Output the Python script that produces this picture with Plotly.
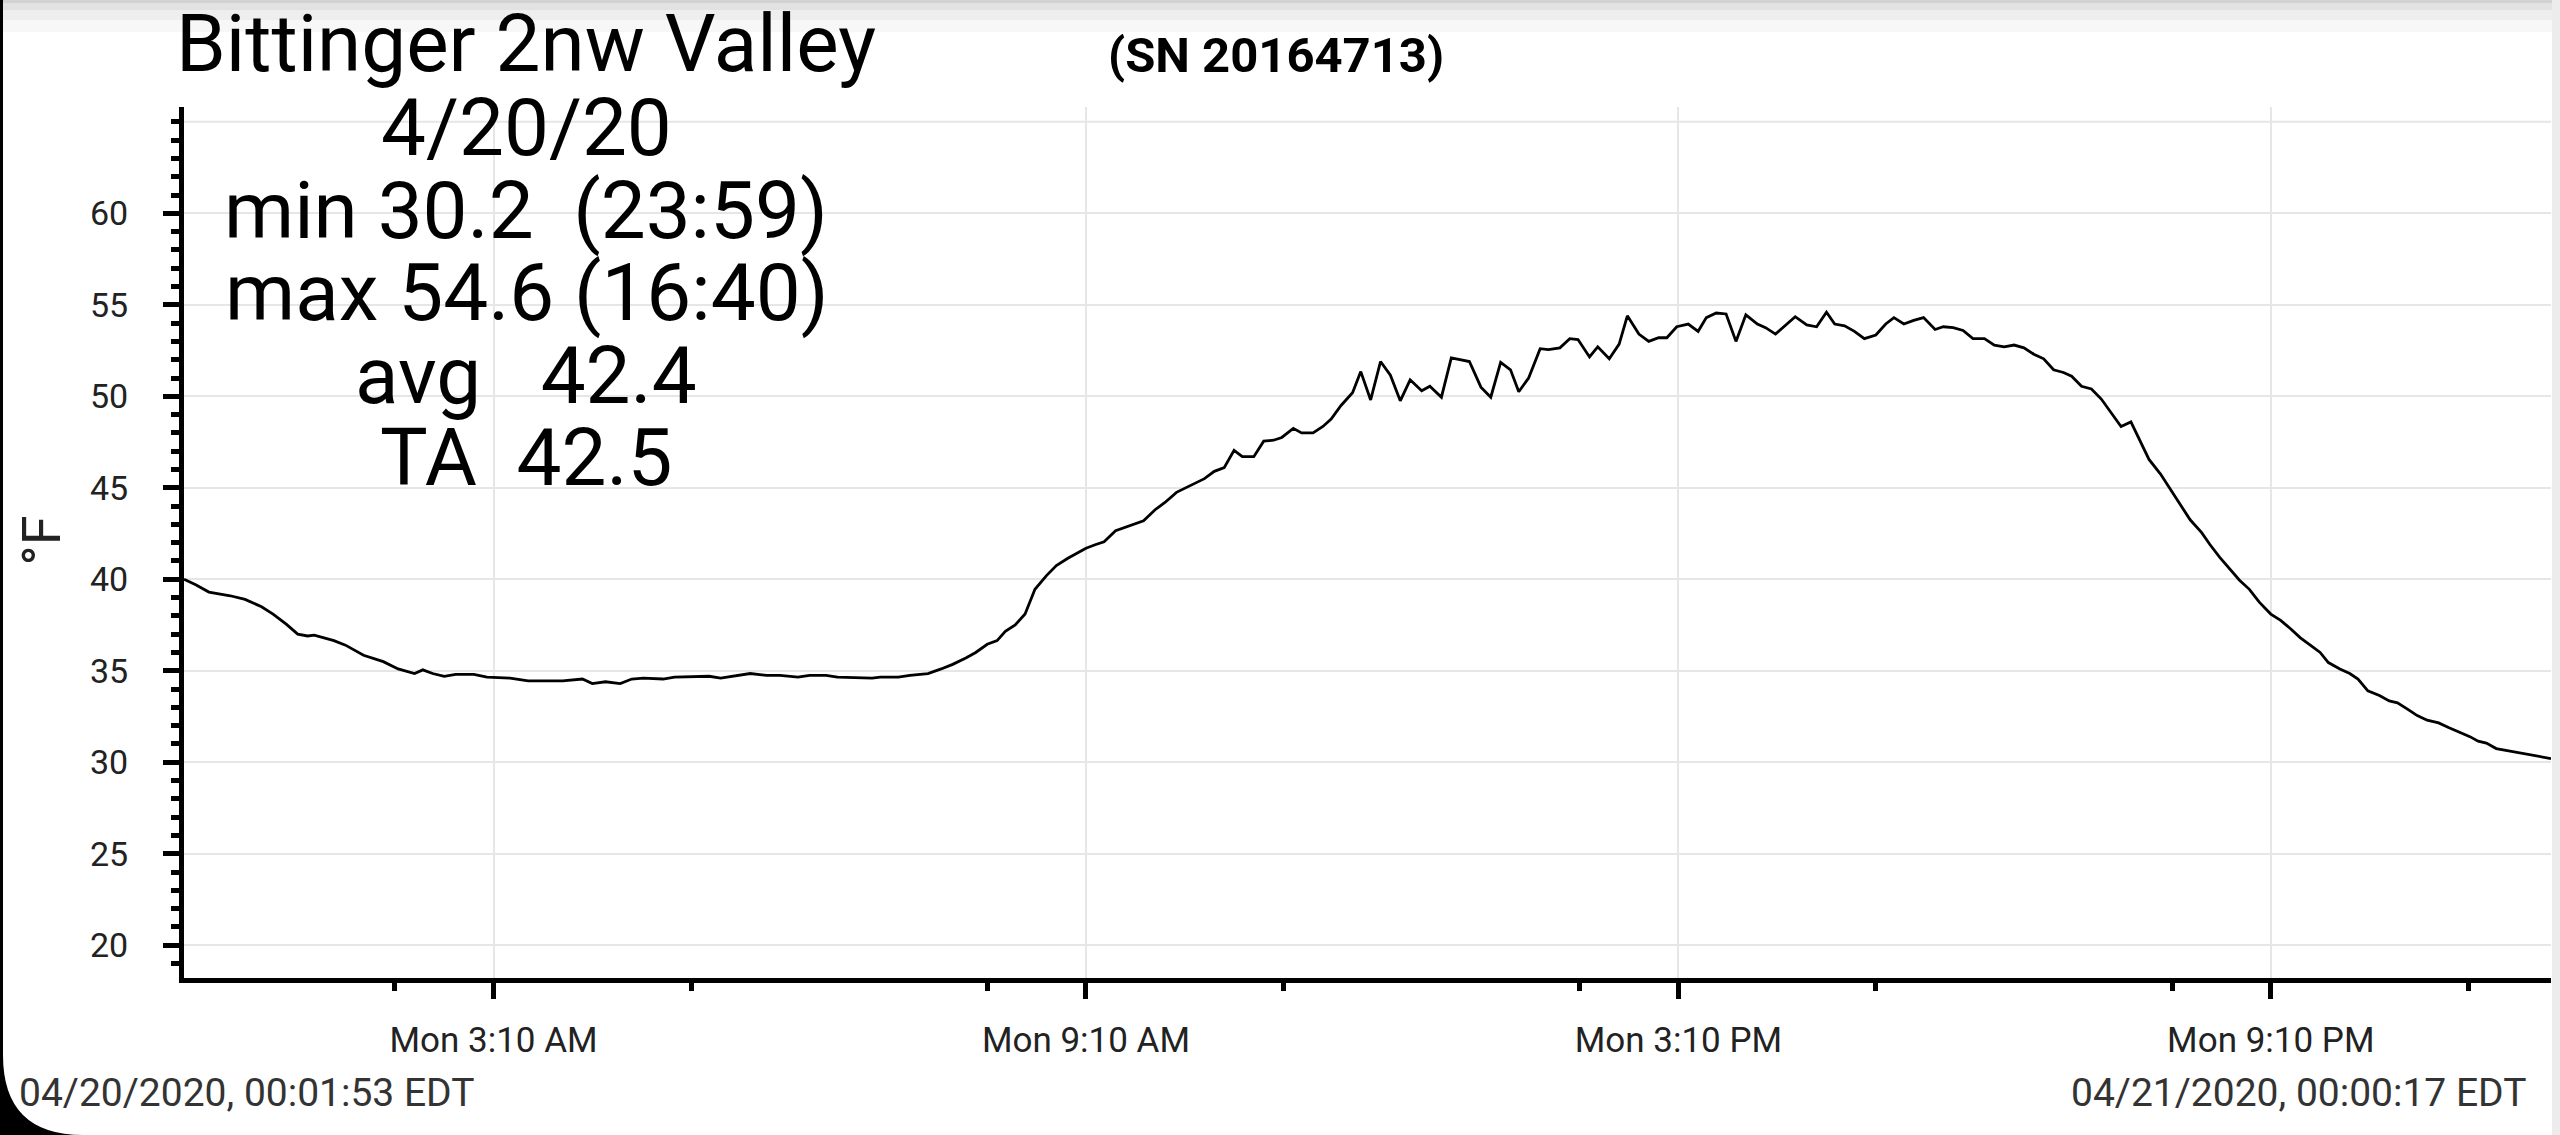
import pandas as pd
import plotly.graph_objects as go

# readings for 4/20/2020 (clock time, degF)
clock = [
    "00:01:53", "00:09", "00:17", "00:23", "00:30", "00:39", "00:49", "00:56",
    "01:04", "01:11", "01:17", "01:21", "01:33", "01:40", "01:51", "02:03",
    "02:12", "02:22", "02:27", "02:33", "02:40", "02:47", "02:58", "03:06",
    "03:20", "03:31", "03:52", "04:04", "04:10", "04:18", "04:27", "04:34",
    "04:41", "04:53", "05:00", "05:21", "05:28", "05:46", "05:56", "06:04",
    "06:15", "06:22", "06:32", "06:39", "06:53", "07:00", "07:05", "07:16",
    "07:23", "07:34", "07:42", "07:49", "07:57", "08:03", "08:10", "08:16",
    "08:21", "08:27", "08:33", "08:39", "08:46", "08:52", "08:59", "09:10",
    "09:16", "09:21", "09:28", "09:36", "09:45", "09:52", "09:58", "10:05",
    "10:14", "10:22", "10:28", "10:34", "10:40", "10:45", "10:52", "10:58",
    "11:04", "11:09", "11:16", "11:21", "11:28", "11:34", "11:39", "11:45",
    "11:52", "11:57", "12:03", "12:09", "12:15", "12:21", "12:27", "12:34",
    "12:39", "12:46", "12:52", "12:57", "13:03", "13:10", "13:16", "13:22",
    "13:28", "13:33", "13:39", "13:46", "13:51", "13:58", "14:04", "14:09",
    "14:16", "14:21", "14:28", "14:34", "14:39", "14:46", "14:52", "14:58",
    "15:03", "15:09", "15:16", "15:22", "15:27", "15:33", "15:39", "15:45",
    "15:51", "15:58", "16:03", "16:09", "16:15", "16:21", "16:28", "16:34",
    "16:40", "16:45", "16:51", "16:57", "17:03", "17:10", "17:16", "17:21",
    "17:27", "17:33", "17:39", "17:46", "17:51", "17:57", "18:03", "18:09",
    "18:16", "18:22", "18:28", "18:34", "18:40", "18:46", "18:52", "18:58",
    "19:04", "19:09", "19:15", "19:21", "19:27", "19:33", "19:39", "19:45",
    "19:51", "19:56", "20:03", "20:10", "20:15", "20:21", "20:28", "20:33",
    "20:39", "20:45", "20:51", "20:57", "21:03", "21:10", "21:16", "21:22",
    "21:28", "21:34", "21:40", "21:45", "21:52", "21:58", "22:03", "22:09",
    "22:16", "22:22", "22:27", "22:34", "22:39", "22:45", "22:52", "22:58",
    "23:05", "23:11", "23:16", "23:21", "23:27", "23:33", "23:40", "23:48",
    "23:54", "23:59", "24:00:17",
]
temps = [
    40.0, 39.7, 39.3, 39.2, 39.1, 38.9, 38.5, 38.1,
    37.55, 37.0, 36.9, 36.95, 36.65, 36.4, 35.85, 35.5,
    35.1, 34.85, 35.05, 34.85, 34.7, 34.8, 34.8, 34.65,
    34.6, 34.45, 34.45, 34.55, 34.3, 34.4, 34.3, 34.55,
    34.6, 34.55, 34.65, 34.7, 34.6, 34.85, 34.75, 34.75,
    34.65, 34.75, 34.75, 34.65, 34.6, 34.6, 34.65, 34.65,
    34.75, 34.85, 35.1, 35.35, 35.7, 36.0, 36.45, 36.65,
    37.15, 37.5, 38.1, 39.45, 40.2, 40.75, 41.15, 41.7,
    41.9, 42.05, 42.65, 42.9, 43.2, 43.8, 44.2, 44.75,
    45.15, 45.5, 45.9, 46.1, 47.05, 46.7, 46.7, 47.55,
    47.6, 47.75, 48.25, 48.0, 48.0, 48.35, 48.75, 49.5,
    50.2, 51.35, 49.8, 51.9, 51.15, 49.75, 50.9, 50.3,
    50.55, 49.95, 52.1, 52.0, 51.9, 50.5, 49.95, 51.85,
    51.45, 50.25, 51.0, 52.6, 52.55, 52.65, 53.15, 53.1,
    52.15, 52.7, 52.05, 52.85, 54.4, 53.4, 53.0, 53.2,
    53.2, 53.8, 53.95, 53.55, 54.3, 54.55, 54.5, 53.0,
    54.45, 53.95, 53.75, 53.4, 53.9, 54.35, 53.9, 53.8,
    54.6, 53.95, 53.85, 53.55, 53.15, 53.35, 53.95, 54.3,
    53.95, 54.15, 54.3, 53.65, 53.8, 53.75, 53.6, 53.15,
    53.15, 52.8, 52.7, 52.8, 52.65, 52.3, 52.05, 51.45,
    51.3, 51.1, 50.55, 50.4, 49.85, 49.1, 48.35, 48.6,
    47.45, 46.55, 45.75, 44.8, 44.05, 43.25, 42.55, 41.9,
    41.2, 40.55, 39.95, 39.45, 38.75, 38.1, 37.75, 37.3,
    36.8, 36.4, 36.0, 35.45, 35.1, 34.85, 34.55, 33.9,
    33.65, 33.35, 33.25, 32.85, 32.55, 32.3, 32.15, 31.9,
    31.65, 31.4, 31.15, 31.05, 30.75, 30.65, 30.5, 30.4,
    30.3, 30.2, 30.2,
]

x_major = ["03:10", "09:10", "15:10", "21:10"]
x_major_text = ["Mon 3:10 AM", "Mon 9:10 AM", "Mon 3:10 PM", "Mon 9:10 PM"]
x_minor = ["02:10", "05:10", "08:10", "11:10", "14:10", "17:10", "20:10", "23:10"]
y_major = [20, 25, 30, 35, 40, 45, 50, 55, 60]
y_major_text = ["20", "25", "30", "35", "40", "45", "50", "55", "60"]

header_lines = [
    "Bittinger 2nw Valley",
    "4/20/20",
    "min 30.2\u00a0\u00a0(23:59)",
    "max 54.6 (16:40)",
    "avg\u00a0\u00a0\u00a042.4",
    "TA\u00a0\u00a042.5",
]
serial = "(SN 20164713)"
start_label = "04/20/2020, 00:01:53 EDT"
end_label = "04/21/2020, 00:00:17 EDT"

day0 = pd.Timestamp("2020-04-20")


def to_time(s):
    parts = [int(p) for p in s.split(":")]
    sec = parts[2] if len(parts) > 2 else 0
    return day0 + pd.Timedelta(hours=parts[0], minutes=parts[1], seconds=sec)


times = [to_time(s) for s in clock]

# plot area in page pixels, used to place the free text
L, R, T, B = 184, 2551, 107, 978
W, H = R - L, B - T


def px_x(x):
    return (x - L) / W


def px_y(y):
    return (B - y) / H


FONT = "Roboto"
GRID = "#e6e6e6"

fig = go.Figure()
fig.add_trace(
    go.Scatter(
        x=times,
        y=temps,
        mode="lines",
        line=dict(color="black", width=2.8),
        hoverinfo="skip",
        showlegend=False,
    )
)

fig.update_layout(
    width=2560,
    height=1135,
    margin=dict(l=L, r=2560 - R, t=T, b=1135 - B),
    paper_bgcolor="white",
    plot_bgcolor="white",
    font=dict(family=FONT, color="#222"),
    showlegend=False,
)

fig.update_xaxes(
    type="date",
    range=[times[0], times[-1]],
    showline=True,
    linecolor="black",
    linewidth=5,
    ticks="outside",
    ticklen=16,
    tickwidth=5,
    tickcolor="black",
    tickmode="array",
    tickvals=[to_time(s) for s in x_major],
    ticktext=x_major_text,
    tickfont=dict(size=35, color="#222"),
    ticklabelstandoff=11,
    showgrid=True,
    gridcolor=GRID,
    gridwidth=2,
    zeroline=False,
    minor=dict(
        tickmode="array",
        tickvals=[to_time(s) for s in x_minor],
        ticks="outside",
        ticklen=8,
        tickwidth=5,
        tickcolor="black",
        showgrid=False,
    ),
)

fig.update_yaxes(
    range=[18.21, 65.81],
    showline=True,
    linecolor="black",
    linewidth=5,
    ticks="outside",
    ticklen=16,
    tickwidth=4.5,
    tickcolor="black",
    tickmode="array",
    tickvals=y_major,
    ticktext=y_major_text,
    tickfont=dict(size=34, color="#222"),
    ticklabelstandoff=28,
    showgrid=True,
    gridcolor=GRID,
    gridwidth=2,
    zeroline=False,
    minor=dict(
        tick0=0,
        dtick=1,
        ticks="outside",
        ticklen=8,
        tickwidth=4.5,
        tickcolor="black",
        showgrid=False,
    ),
)

# unlabeled top grid line at 65
fig.add_shape(
    type="line", xref="paper", yref="y", x0=0, x1=1, y0=65, y1=65,
    line=dict(color=GRID, width=2), layer="below",
)

# header block, one annotation per line (tight line spacing)
line_centers = [44.4, 127.7, 210.7, 292.7, 375.7, 457.7]
for text, yc in zip(header_lines, line_centers):
    fig.add_annotation(
        text=text, xref="paper", yref="paper", x=px_x(526), y=px_y(yc),
        xanchor="center", yanchor="middle", showarrow=False,
        font=dict(family=FONT, size=80, color="black"),
    )

fig.add_annotation(
    text="<b>" + serial + "</b>", xref="paper", yref="paper",
    x=px_x(1276), y=px_y(55.6), xanchor="center", yanchor="middle",
    showarrow=False, font=dict(family=FONT, size=49, color="black"),
)

fig.add_annotation(
    text="°F", xref="paper", yref="paper", x=px_x(40.5), y=px_y(541),
    xanchor="center", yanchor="middle", textangle=-90, showarrow=False,
    font=dict(family=FONT, size=54, color="#222"),
)

fig.add_annotation(
    text=start_label, xref="paper", yref="paper", x=px_x(17), y=px_y(1093),
    xanchor="left", yanchor="middle", showarrow=False,
    font=dict(family=FONT, size=39, color="#333"),
)
fig.add_annotation(
    text=end_label, xref="paper", yref="paper", x=px_x(2528), y=px_y(1093),
    xanchor="right", yanchor="middle", showarrow=False,
    font=dict(family=FONT, size=39, color="#333"),
)

# screen edges of the original screenshot
edge_shapes = [
    (0, 0, 2560, 3, "#d2d2d2"),
    (0, 3, 2560, 10, "#e2e2e2"),
    (0, 10, 2560, 20, "#eeeeee"),
    (0, 20, 2560, 32, "#f7f7f7"),
    (2552, 0, 2560, 1135, "#ececec"),
    (0, 0, 3, 1135, "black"),
]
for x0, y0, x1, y1, col in edge_shapes:
    fig.add_shape(
        type="rect", xref="paper", yref="paper",
        x0=px_x(x0), x1=px_x(x1), y0=px_y(y0), y1=px_y(y1),
        fillcolor=col, line=dict(width=0), layer="below",
    )

corner = "M {:.5f},{:.5f} Q {:.5f},{:.5f} {:.5f},{:.5f} L {:.5f},{:.5f} L {:.5f},{:.5f} Z".format(
    px_x(3), px_y(1055), px_x(3), px_y(1135), px_x(83), px_y(1135),
    px_x(0), px_y(1135), px_x(0), px_y(1055),
)
fig.add_shape(
    type="path", xref="paper", yref="paper", path=corner,
    fillcolor="black", line=dict(width=0),
)

fig.write_html(
    "out.html",
    config={"displayModeBar": False},
    post_script="document.body.style.margin='0';document.body.style.overflow='hidden';",
)
